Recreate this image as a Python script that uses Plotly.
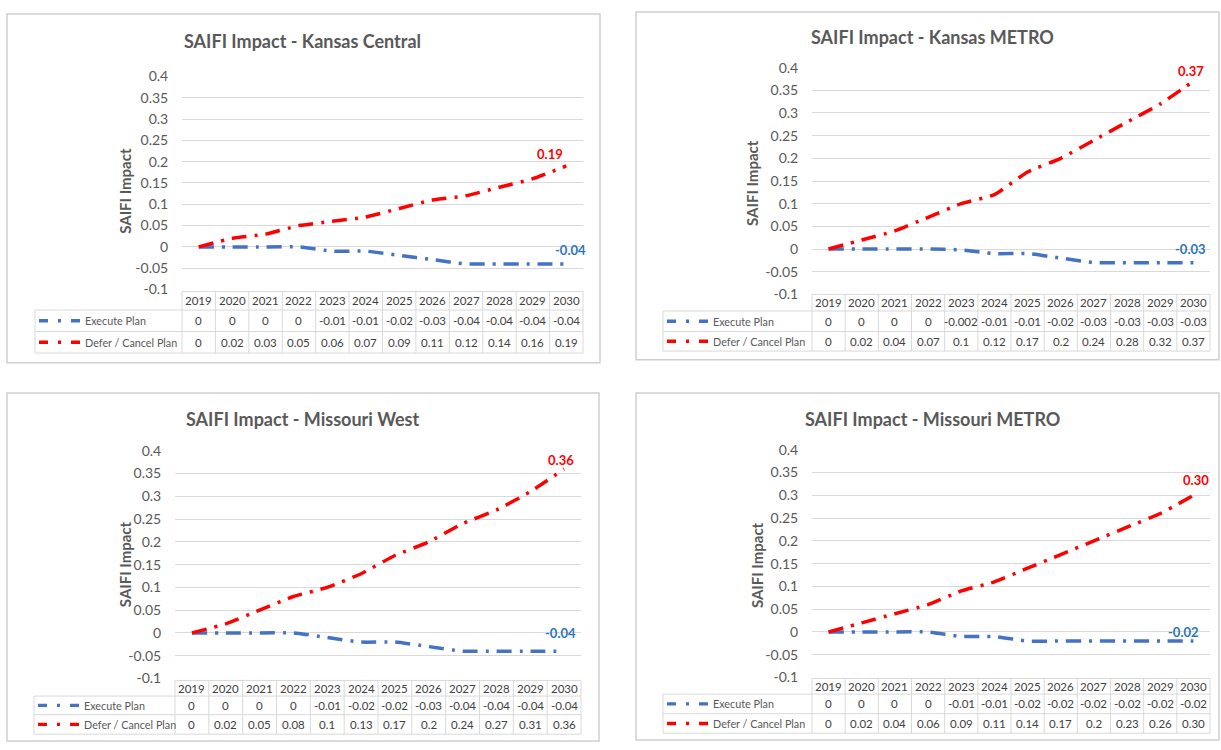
import plotly.graph_objects as go

W, H = 1221, 750

years = list(range(2019, 2031))
year_labels = [str(y) for y in years]

series_names = ["Execute Plan", "Defer / Cancel Plan"]

# Values as printed in each data table
execute_ks_central = ["0", "0", "0", "0", "-0.01", "-0.01", "-0.02", "-0.03", "-0.04", "-0.04", "-0.04", "-0.04"]
defer_ks_central = ["0", "0.02", "0.03", "0.05", "0.06", "0.07", "0.09", "0.11", "0.12", "0.14", "0.16", "0.19"]

execute_ks_metro = ["0", "0", "0", "0", "-0.002", "-0.01", "-0.01", "-0.02", "-0.03", "-0.03", "-0.03", "-0.03"]
defer_ks_metro = ["0", "0.02", "0.04", "0.07", "0.1", "0.12", "0.17", "0.2", "0.24", "0.28", "0.32", "0.37"]

execute_mo_west = ["0", "0", "0", "0", "-0.01", "-0.02", "-0.02", "-0.03", "-0.04", "-0.04", "-0.04", "-0.04"]
defer_mo_west = ["0", "0.02", "0.05", "0.08", "0.1", "0.13", "0.17", "0.2", "0.24", "0.27", "0.31", "0.36"]

execute_mo_metro = ["0", "0", "0", "0", "-0.01", "-0.01", "-0.02", "-0.02", "-0.02", "-0.02", "-0.02", "-0.02"]
defer_mo_metro = ["0", "0.02", "0.04", "0.06", "0.09", "0.11", "0.14", "0.17", "0.2", "0.23", "0.26", "0.30"]

y_tick_vals = [0.4, 0.35, 0.3, 0.25, 0.2, 0.15, 0.1, 0.05, 0, -0.05, -0.1]
y_tick_text = ["0.4", "0.35", "0.3", "0.25", "0.2", "0.15", "0.1", "0.05", "0", "-0.05", "-0.1"]

FONT = "Lato, 'Open Sans', sans-serif"
GREY_TEXT = "#595959"
TABLE_TEXT = "#404040"
GRID = "#D9D9D9"
BLUE = "#4472C4"
RED = "#FF0000"
BLUE_LABEL = "#2E75B6"
DASH = "15px,8px,3px,8px"
KEY_DASH = "9px,10px,3px,10px"

# Pixel geometry of each chart panel
panels = [
    dict(title="SAIFI Impact - Kansas Central", execute=execute_ks_central, defer=defer_ks_central,
         box=(7, 5, 600, 362), plot=(182, 583, 69, 287), title_xy=(302, 33), ytitle_xy=(125, 186),
         legend_left=35, rows=(289, 308, 330, 352), red_shift=(-16, 12), blue_shift=(4, 14)),
    dict(title="SAIFI Impact - Kansas METRO", execute=execute_ks_metro, defer=defer_ks_metro,
         box=(636, 3, 1219, 359), plot=(812, 1210, 60, 292), title_xy=(932, 29), ytitle_xy=(752, 178),
         legend_left=663, rows=(292, 309, 330, 350), red_shift=(-2, 10), blue_shift=(-3, 14)),
    dict(title="SAIFI Impact - Missouri West", execute=execute_mo_west, defer=defer_mo_west,
         box=(7, 393, 599, 749), plot=(175, 581, 452, 685), title_xy=(302, 420), ytitle_xy=(125, 568),
         legend_left=34, rows=(687, 703, 722, 742), red_shift=(-3, 9), blue_shift=(-4, 18)),
    dict(title="SAIFI Impact - Missouri METRO", execute=execute_mo_metro, defer=defer_mo_metro,
         box=(636, 393, 1219, 748), plot=(812, 1210, 451, 684), title_xy=(932, 420), ytitle_xy=(757, 569),
         legend_left=663, rows=(685, 701, 721, 741), red_shift=(3, 15), blue_shift=(-10, 9)),
]


def px(x):
    return x / W


def py(y):
    return 1 - y / H


fig = go.Figure()
shapes = []
annotations = []
layout_axes = {}

for i, p in enumerate(panels, start=1):
    xa = "x" if i == 1 else f"x{i}"
    ya = "y" if i == 1 else f"y{i}"
    x0, x1, ytop, ybot = p["plot"]

    layout_axes["xaxis" if i == 1 else f"xaxis{i}"] = dict(
        domain=[px(x0), px(x1)], range=[2018.5, 2030.5], anchor=ya,
        showgrid=False, showticklabels=False, zeroline=False, showline=False, ticks="",
    )
    layout_axes["yaxis" if i == 1 else f"yaxis{i}"] = dict(
        domain=[py(ybot), py(ytop)], range=[-0.1, 0.4], anchor=xa,
        tickvals=y_tick_vals, ticktext=y_tick_text, showgrid=True, gridcolor=GRID, gridwidth=1,
        zeroline=False, showline=False, ticks="outside", ticklen=10, tickcolor="rgba(0,0,0,0)",
        tickfont=dict(family=FONT, size=14, color=GREY_TEXT),
    )

    execute_vals = [float(v) for v in p["execute"]]
    defer_vals = [float(v) for v in p["defer"]]

    for vals, color in ((execute_vals, BLUE), (defer_vals, RED)):
        fig.add_trace(go.Scatter(
            x=years, y=vals, xaxis=xa, yaxis=ya, mode="lines",
            line=dict(color=color, width=3.5, dash=DASH, shape="spline", smoothing=0.5),
            showlegend=False, hoverinfo="skip",
        ))

    # End-of-series value labels
    for vals, color, shift in ((defer_vals, RED, p["red_shift"]), (execute_vals, BLUE_LABEL, p["blue_shift"])):
        annotations.append(dict(
            x=years[-1], y=vals[-1], xref=xa, yref=ya, text=f"<b>{vals[-1]:.2f}</b>",
            showarrow=False, xanchor="center", yanchor="middle",
            xshift=shift[0], yshift=shift[1],
            font=dict(family=FONT, size=13, color=color),
        ))

    # Panel frame
    bx0, by0, bx1, by1 = p["box"]
    shapes.append(dict(type="rect", xref="paper", yref="paper",
                       x0=px(bx0), x1=px(bx1), y0=py(by1), y1=py(by0),
                       line=dict(color="#CFCFCF", width=1.5), layer="below"))

    # Title and axis title
    annotations.append(dict(
        x=px(p["title_xy"][0]), y=py(p["title_xy"][1]), xref="paper", yref="paper",
        text="<b>" + p["title"] + "</b>", showarrow=False, xanchor="center", yanchor="middle",
        font=dict(family=FONT, size=18, color=GREY_TEXT),
    ))
    annotations.append(dict(
        x=px(p["ytitle_xy"][0]), y=py(p["ytitle_xy"][1]), xref="paper", yref="paper",
        text="<b>SAIFI Impact</b>", textangle=-90, showarrow=False,
        xanchor="center", yanchor="middle",
        font=dict(family=FONT, size=15, color=GREY_TEXT),
    ))

    # Data table below the plot
    r0, r1, r2, r3 = p["rows"]
    col_w = (x1 - x0) / len(years)
    lx = p["legend_left"]
    line_style = dict(color=GRID, width=1)

    def hline(xa_, xb_, yy):
        shapes.append(dict(type="line", xref="paper", yref="paper",
                           x0=px(xa_), x1=px(xb_), y0=py(yy), y1=py(yy), line=line_style))

    def vline(xx, ya_, yb_):
        shapes.append(dict(type="line", xref="paper", yref="paper",
                           x0=px(xx), x1=px(xx), y0=py(yb_), y1=py(ya_), line=line_style))

    hline(x0, x1, r0)
    hline(lx, x1, r1)
    hline(lx, x1, r2)
    hline(lx, x1, r3)
    vline(lx, r1, r3)
    for k in range(len(years) + 1):
        vline(x0 + k * col_w, r0, r3)

    for k, yl in enumerate(year_labels):
        annotations.append(dict(
            x=years[k], y=py((r0 + r1) / 2), xref=xa, yref="paper", text=yl, showarrow=False,
            xanchor="center", yanchor="middle", font=dict(family=FONT, size=11.5, color=TABLE_TEXT),
        ))
    for row_vals, (ra, rb) in ((p["execute"], (r1, r2)), (p["defer"], (r2, r3))):
        for k, v in enumerate(row_vals):
            annotations.append(dict(
                x=years[k], y=py((ra + rb) / 2), xref=xa, yref="paper", text=v, showarrow=False,
                xanchor="center", yanchor="middle", font=dict(family=FONT, size=11.5, color=TABLE_TEXT),
            ))

    # Legend keys inside the table
    for name, color, (ra, rb) in ((series_names[0], BLUE, (r1, r2)), (series_names[1], RED, (r2, r3))):
        ym = (ra + rb) / 2
        shapes.append(dict(type="line", xref="paper", yref="paper",
                           x0=px(lx + 4), x1=px(lx + 46), y0=py(ym), y1=py(ym),
                           line=dict(color=color, width=3.4, dash=KEY_DASH)))
        annotations.append(dict(
            x=px(lx + 48), y=py(ym), xref="paper", yref="paper", text=name, showarrow=False,
            xanchor="left", yanchor="middle", font=dict(family=FONT, size=10.8, color=GREY_TEXT),
        ))

fig.update_layout(
    width=W, height=H, margin=dict(l=0, r=0, t=0, b=0),
    paper_bgcolor="white", plot_bgcolor="white",
    showlegend=False, shapes=shapes, annotations=annotations,
    **layout_axes,
)

# Page without default body margin so the figure sits flush in the window
fig.write_html("out.html", post_script="document.body.style.margin='0px';")
